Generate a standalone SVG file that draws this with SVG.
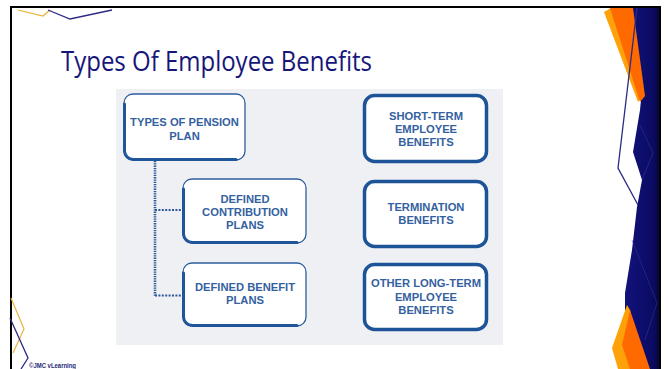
<svg xmlns="http://www.w3.org/2000/svg" width="669" height="369" viewBox="0 0 669 369">
  <defs>
    <linearGradient id="navyBand" x1="0" y1="0" x2="1" y2="0">
      <stop offset="0" stop-color="#12127c"/>
      <stop offset="0.8" stop-color="#0b0b62"/>
      <stop offset="1" stop-color="#03032e"/>
    </linearGradient>
  </defs>
  <style>
    .frame { stroke: #000; stroke-width: 2; fill: none; }
    .deco-gold { stroke: #e8b23a; stroke-width: 1.2; fill: none; }
    .deco-navy { stroke: #2a2a82; stroke-width: 1.3; fill: none; }
    .deco-faint { stroke: #3b3ba0; stroke-width: 0.8; fill: none; opacity: 0.6; }
    .title { font-family: "Open Sans", "Noto Sans", sans-serif; font-size: 27px; fill: #16167a; }
    .footer { font-family: "Liberation Sans", Arial, sans-serif; font-size: 6.5px; font-weight: bold; fill: #1e2a78; }
    .lbox { fill: #fff; stroke: #2d5e9e; stroke-width: 1.3; }
    .lshade { fill: none; stroke: #1f5599; stroke-width: 3; stroke-linecap: round; }
    .rbox { fill: #fff; stroke: #1d5498; stroke-width: 3.5; }
    .label { font-family: "Liberation Sans", Arial, sans-serif; font-size: 11.2px; font-weight: bold; fill: #3361a0; text-anchor: middle; }
    .dotv { stroke: #2a5898; stroke-width: 2.6; stroke-dasharray: 1.3 1; fill: none; }
    .doth { stroke: #2a5898; stroke-width: 2.2; stroke-dasharray: 2 1.4; fill: none; }
  </style>

  <rect width="669" height="369" fill="#fff"/>

  <!-- right side band -->
  <g id="right-decoration">
    <polygon points="630,8 661,8 661,369 625,369 625,293 632,250 637,207 642,180 633,152 640,110 641,100" fill="url(#navyBand)"/>
    <polygon points="604,12 611,8 641,98 638,102" fill="#ffa20a"/>
    <polygon points="610,8 633,8 645,96 640,102" fill="#ff6a00"/>
    <polyline class="deco-navy" points="637,8 618,168 638,205"/>
    <polyline class="deco-faint" points="640,125 653,153 642,180"/>
    <polyline class="deco-faint" points="632,240 657,303 645,340"/>
    <polygon points="627,305 612,348 618,369 642,369 630,310" fill="#ffa20a"/>
    <polygon points="630,310 622,345 630,369 650,369" fill="#ff6a00"/>
  </g>

  <!-- slide frame -->
  <g id="frame">
    <line class="frame" x1="10" y1="7" x2="661" y2="7"/>
    <line class="frame" x1="11" y1="7" x2="11" y2="369"/>
    <line class="frame" x1="660" y1="7" x2="660" y2="369" stroke-width="1.5"/>
  </g>

  <!-- corner accents -->
  <g id="left-decoration">
    <polyline class="deco-gold" points="18,10 43,16 50,10"/>
    <polyline class="deco-navy" points="48,10 70,19 112,10"/>
    <polyline class="deco-gold" points="11,298 24,329 13,353"/>
    <polyline class="deco-navy" points="10,318 28,358 21,369"/>
  </g>

  <text class="title" x="61" y="71" textLength="311" lengthAdjust="spacingAndGlyphs">Types Of Employee Benefits</text>
  <text class="footer" x="29" y="368" textLength="47" lengthAdjust="spacingAndGlyphs">©JMC vLearning</text>

  <!-- chart panel -->
  <rect x="116" y="89" width="387" height="256" fill="#eff0f4"/>

  <g id="connectors">
    <line class="dotv" x1="155" y1="161" x2="155" y2="296"/>
    <line class="doth" x1="155" y1="210" x2="182" y2="210"/>
    <line class="doth" x1="155" y1="295.5" x2="182" y2="295.5"/>
  </g>

  <g id="pension-plan">
    <rect class="lbox" x="124" y="94" width="121" height="66" rx="9"/>
    <path class="lshade" d="M124.5,104 V151 A9,9 0 0 0 133.5,159.5 H236"/>
    <text class="label" x="184.5" y="126">TYPES OF PENSION</text>
    <text class="label" x="184.5" y="139.5">PLAN</text>
  </g>

  <g id="defined-contribution">
    <rect class="lbox" x="183" y="179" width="123" height="64" rx="9"/>
    <path class="lshade" d="M183.5,189 V234 A9,9 0 0 0 192.5,242.5 H297"/>
    <text class="label" x="245" y="203">DEFINED</text>
    <text class="label" x="245" y="216">CONTRIBUTION</text>
    <text class="label" x="245" y="229">PLANS</text>
  </g>

  <g id="defined-benefit">
    <rect class="lbox" x="183" y="263" width="123" height="63" rx="9"/>
    <path class="lshade" d="M183.5,273 V317 A9,9 0 0 0 192.5,325.5 H297"/>
    <text class="label" x="245" y="291">DEFINED BENEFIT</text>
    <text class="label" x="245" y="304">PLANS</text>
  </g>

  <g id="short-term">
    <rect class="rbox" x="364.5" y="95.5" width="122" height="66" rx="10"/>
    <text class="label" x="426" y="120">SHORT-TERM</text>
    <text class="label" x="426" y="133">EMPLOYEE</text>
    <text class="label" x="426" y="146">BENEFITS</text>
  </g>

  <g id="termination">
    <rect class="rbox" x="364.5" y="181.5" width="122" height="65" rx="10"/>
    <text class="label" x="426" y="211">TERMINATION</text>
    <text class="label" x="426" y="224">BENEFITS</text>
  </g>

  <g id="other-long-term">
    <rect class="rbox" x="364.5" y="264.5" width="122" height="65" rx="10"/>
    <text class="label" x="426" y="287">OTHER LONG-TERM</text>
    <text class="label" x="426" y="301">EMPLOYEE</text>
    <text class="label" x="426" y="314">BENEFITS</text>
  </g>
</svg>
